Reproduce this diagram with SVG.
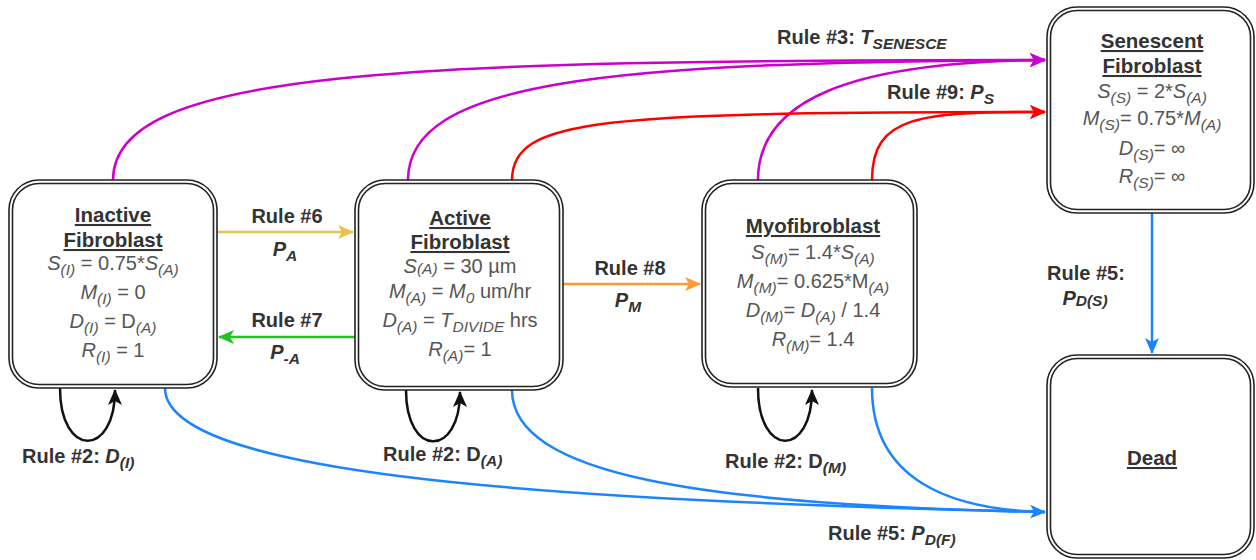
<svg xmlns="http://www.w3.org/2000/svg" width="1256" height="560" viewBox="0 0 1256 560">
<style>
text{font-family:"Liberation Sans",Arial,Helvetica,sans-serif}
.title{font-size:20.5px;font-weight:bold;fill:#333;text-decoration:underline}
.body{font-size:20px;fill:#555}
.lbl{font-size:20px;font-weight:bold;fill:#333}
.i{font-style:italic}
.s{font-size:15.5px;font-style:italic}
.box{fill:#fff;stroke:#222;stroke-width:1.6}
.inner{fill:none;stroke:#222;stroke-width:1.6}
.e{fill:none;stroke-width:2.5}
</style>
<defs>
<marker id="aY" viewBox="0 0 16 14" refX="15" refY="7" markerWidth="16" markerHeight="14" markerUnits="userSpaceOnUse" orient="auto"><path d="M0,0 L16,7 L0,14 L4,7 Z" fill="#e8c24a"/></marker>
<marker id="aG" viewBox="0 0 16 14" refX="15" refY="7" markerWidth="16" markerHeight="14" markerUnits="userSpaceOnUse" orient="auto"><path d="M0,0 L16,7 L0,14 L4,7 Z" fill="#22c322"/></marker>
<marker id="aO" viewBox="0 0 16 14" refX="15" refY="7" markerWidth="16" markerHeight="14" markerUnits="userSpaceOnUse" orient="auto"><path d="M0,0 L16,7 L0,14 L4,7 Z" fill="#ff9933"/></marker>
<marker id="aP" viewBox="0 0 16 14" refX="15" refY="7" markerWidth="16" markerHeight="14" markerUnits="userSpaceOnUse" orient="auto"><path d="M0,0 L16,7 L0,14 L4,7 Z" fill="#cc00cc"/></marker>
<marker id="aR" viewBox="0 0 16 14" refX="15" refY="7" markerWidth="16" markerHeight="14" markerUnits="userSpaceOnUse" orient="auto"><path d="M0,0 L16,7 L0,14 L4,7 Z" fill="#ff0000"/></marker>
<marker id="aB" viewBox="0 0 16 14" refX="15" refY="7" markerWidth="16" markerHeight="14" markerUnits="userSpaceOnUse" orient="auto"><path d="M0,0 L16,7 L0,14 L4,7 Z" fill="#1a85ff"/></marker>
<marker id="aK" viewBox="0 0 16 14" refX="15" refY="7" markerWidth="16" markerHeight="14" markerUnits="userSpaceOnUse" orient="auto"><path d="M0,0 L16,7 L0,14 L4,7 Z" fill="#111"/></marker>
</defs>
<rect width="1256" height="560" fill="#fff"/>

<g id="connectors">
<path class="e" stroke="#cc00cc" d="M113,180 C113,70 400,60 1045,60" marker-end="url(#aP)"/>
<path class="e" stroke="#cc00cc" d="M408,180 C408,82 600,62 1045,60" marker-end="url(#aP)"/>
<path class="e" stroke="#cc00cc" d="M758,180 C758,100 850,62 1045,60" marker-end="url(#aP)"/>
<path class="e" stroke="#ff0000" d="M512,180 C512,118 600,112 1045,112" marker-end="url(#aR)"/>
<path class="e" stroke="#ff0000" d="M872,180 C872,115 920,112 1045,112" marker-end="url(#aR)"/>
<path class="e" stroke="#e8c24a" d="M217,232 L353,232" marker-end="url(#aY)"/>
<path class="e" stroke="#22c322" d="M355,337 L219,337" marker-end="url(#aG)"/>
<path class="e" stroke="#ff9933" d="M563,284 L700,284" marker-end="url(#aO)"/>
<path class="e" stroke="#1a85ff" d="M1152,213 L1152,353" marker-end="url(#aB)"/>
<path class="e" stroke="#1a85ff" d="M165,388 C165,470 500,500 1045,512" marker-end="url(#aB)"/>
<path class="e" stroke="#1a85ff" d="M512,390 C512,475 700,505 1045,512"/>
<path class="e" stroke="#1a85ff" d="M872,388 C872,480 950,510 1045,512"/>
<path class="e" stroke="#111" d="M60,388 C60,458 115,458 115,390" marker-end="url(#aK)"/>
<path class="e" stroke="#111" d="M406,390 C406,458 460,458 460,392" marker-end="url(#aK)"/>
<path class="e" stroke="#111" d="M758,388 C758,458 812,458 812,390" marker-end="url(#aK)"/>
<text class="lbl" x="777" y="44">Rule #3: <tspan class="i">T</tspan><tspan class="s" dy="5">SENESCE</tspan></text>
<text class="lbl" x="887" y="99">Rule #9: <tspan class="i">P</tspan><tspan class="s" dy="5">S</tspan></text>
<text class="lbl" x="287" y="223" text-anchor="middle">Rule #6</text>
<text class="lbl" x="285" y="256" text-anchor="middle"><tspan class="i">P</tspan><tspan class="s" dy="5">A</tspan></text>
<text class="lbl" x="287" y="327" text-anchor="middle">Rule #7</text>
<text class="lbl" x="285" y="359" text-anchor="middle"><tspan class="i">P</tspan><tspan class="s" dy="5">-A</tspan></text>
<text class="lbl" x="630" y="275" text-anchor="middle">Rule #8</text>
<text class="lbl" x="628" y="307" text-anchor="middle"><tspan class="i">P</tspan><tspan class="s" dy="5">M</tspan></text>
<text class="lbl" x="1086" y="280" text-anchor="middle">Rule #5:</text>
<text class="lbl" x="1085" y="305" text-anchor="middle" font-weight="normal"><tspan class="i">P</tspan><tspan class="s" dy="1">D(S)</tspan></text>
<text class="lbl" x="828" y="540">Rule #5: <tspan class="i">P</tspan><tspan class="s" dy="5">D(F)</tspan></text>
<text class="lbl" x="22" y="463">Rule #2: <tspan class="i">D</tspan><tspan class="s" dy="5">(I)</tspan></text>
<text class="lbl" x="383" y="461">Rule #2: D<tspan class="s" dy="5">(A)</tspan></text>
<text class="lbl" x="725" y="468">Rule #2: D<tspan class="s" dy="5">(M)</tspan></text>
</g>

<g id="inactive">
<rect class="box" x="9" y="180" width="208" height="208" rx="30"/>
<rect class="inner" x="12.5" y="183.5" width="201" height="201" rx="26.5"/>
<text class="title" x="113" y="222" text-anchor="middle">Inactive</text>
<text class="title" x="113" y="247" text-anchor="middle">Fibroblast</text>
<text class="body" x="113" y="270" text-anchor="middle"><tspan class="i">S</tspan><tspan class="s" dy="5">(I)</tspan><tspan dy="-5"> = 0.75*</tspan><tspan class="i">S</tspan><tspan class="s" dy="5">(A)</tspan></text>
<text class="body" x="113" y="299" text-anchor="middle"><tspan class="i">M</tspan><tspan class="s" dy="5">(I)</tspan><tspan dy="-5"> = 0</tspan></text>
<text class="body" x="113" y="328" text-anchor="middle"><tspan class="i">D</tspan><tspan class="s" dy="5">(I)</tspan><tspan dy="-5"> = D</tspan><tspan class="s" dy="5">(A)</tspan></text>
<text class="body" x="113" y="357" text-anchor="middle"><tspan class="i">R</tspan><tspan class="s" dy="5">(I)</tspan><tspan dy="-5"> = 1</tspan></text>
</g>

<g id="active">
<rect class="box" x="355" y="180" width="208" height="210" rx="30"/>
<rect class="inner" x="358.5" y="183.5" width="201" height="203" rx="26.5"/>
<text class="title" x="460" y="225" text-anchor="middle">Active</text>
<text class="title" x="460" y="249" text-anchor="middle">Fibroblast</text>
<text class="body" x="460" y="273" text-anchor="middle"><tspan class="i">S</tspan><tspan class="s" dy="1">(A)</tspan><tspan dy="-1"> = 30 µm</tspan></text>
<text class="body" x="460" y="298" text-anchor="middle"><tspan class="i">M</tspan><tspan class="s" dy="5">(A)</tspan><tspan dy="-5"> = </tspan><tspan class="i">M</tspan><tspan class="s" dy="5">0</tspan><tspan dy="-5"> um/hr</tspan></text>
<text class="body" x="460" y="327" text-anchor="middle"><tspan class="i">D</tspan><tspan class="s" dy="5">(A)</tspan><tspan dy="-5"> = </tspan><tspan class="i">T</tspan><tspan class="s" dy="5">DIVIDE</tspan><tspan dy="-5"> hrs</tspan></text>
<text class="body" x="460" y="356" text-anchor="middle"><tspan class="i">R</tspan><tspan class="s" dy="5">(A)</tspan><tspan dy="-5">= 1</tspan></text>
</g>

<g id="myofibroblast">
<rect class="box" x="702" y="180" width="215" height="207" rx="30"/>
<rect class="inner" x="705.5" y="183.5" width="208" height="200" rx="26.5"/>
<text class="title" x="813" y="233" text-anchor="middle">Myofibroblast</text>
<text class="body" x="813" y="259" text-anchor="middle"><tspan class="i">S</tspan><tspan class="s" dy="5">(M)</tspan><tspan dy="-5">= 1.4*</tspan><tspan class="i">S</tspan><tspan class="s" dy="5">(A)</tspan></text>
<text class="body" x="813" y="288" text-anchor="middle"><tspan class="i">M</tspan><tspan class="s" dy="5">(M)</tspan><tspan dy="-5">= 0.625*M</tspan><tspan class="s" dy="5">(A)</tspan></text>
<text class="body" x="813" y="317" text-anchor="middle"><tspan class="i">D</tspan><tspan class="s" dy="5">(M)</tspan><tspan dy="-5">= </tspan><tspan class="i">D</tspan><tspan class="s" dy="5">(A)</tspan><tspan dy="-5"> / 1.4</tspan></text>
<text class="body" x="813" y="346" text-anchor="middle"><tspan class="i">R</tspan><tspan class="s" dy="5">(M)</tspan><tspan dy="-5">=  1.4</tspan></text>
</g>

<g id="senescent">
<rect class="box" x="1047" y="7" width="207" height="206" rx="30"/>
<rect class="inner" x="1050.5" y="10.5" width="200" height="199" rx="26.5"/>
<text class="title" x="1152" y="48" text-anchor="middle">Senescent</text>
<text class="title" x="1152" y="73" text-anchor="middle">Fibroblast</text>
<text class="body" x="1152" y="98" text-anchor="middle"><tspan class="i">S</tspan><tspan class="s" dy="5">(S)</tspan><tspan dy="-5"> = 2*</tspan><tspan class="i">S</tspan><tspan class="s" dy="5">(A)</tspan></text>
<text class="body" x="1152" y="125" text-anchor="middle"><tspan class="i">M</tspan><tspan class="s" dy="5">(S)</tspan><tspan dy="-5">= 0.75*</tspan><tspan class="i">M</tspan><tspan class="s" dy="5">(A)</tspan></text>
<text class="body" x="1152" y="155" text-anchor="middle"><tspan class="i">D</tspan><tspan class="s" dy="5">(S)</tspan><tspan dy="-5">= ∞</tspan></text>
<text class="body" x="1152" y="183" text-anchor="middle"><tspan class="i">R</tspan><tspan class="s" dy="5">(S)</tspan><tspan dy="-5">= ∞</tspan></text>
</g>

<g id="dead">
<rect class="box" x="1047" y="355" width="207" height="203" rx="30"/>
<rect class="inner" x="1050.5" y="358.5" width="200" height="196" rx="26.5"/>
<text class="title" x="1152" y="465" text-anchor="middle">Dead</text>
</g>
</svg>
